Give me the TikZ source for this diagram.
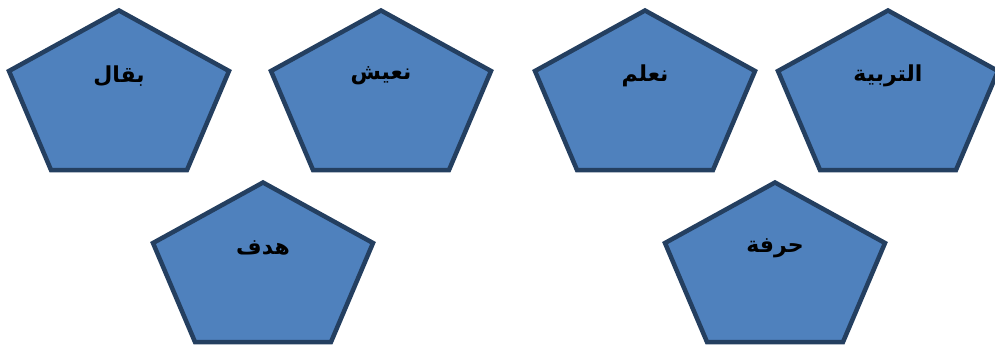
\documentclass[tikz,border=0pt]{standalone}
\usepackage{fontspec}
\newfontfamily\arabicfont[Script=Arabic]{DejaVu Sans}
\TeXXeTstate=1
\definecolor{pentfill}{HTML}{4F81BD}
\definecolor{pentline}{HTML}{243F60}
\usetikzlibrary{positioning}

\begin{document}
\begin{tikzpicture}[x=1pt,y=-1pt,
    pent/.style={draw=pentline,fill=pentfill,line width=4.5pt},
    word/.style={font=\arabicfont\bfseries\fontsize{22}{26}\selectfont,inner sep=0pt}]
  \useasboundingbox (0,0) rectangle (995,349);
  % pentagons, top vertex first
  \foreach \cx/\ty in {119/8,381/8,645/8,888/8,263/180,775/180}
    \draw[pent] (\cx,\ty+2.5) -- ++(110,60.5) -- ++(-42,99) -- ++(-136,0) -- ++(-42,-99) -- cycle;
  % words
  \node[word] (baqqal) at (119,76) {\beginR بقال\endR};
  \node[word] (naeesh) at (381,76) {\beginR نعيش\endR};
  \node[word] (naalam) at (645,76) {\beginR نعلم\endR};
  \node[word] (tarbiya) at (888,76) {\beginR التربية\endR};
  \node[word] (hadaf) at (263,248) {\beginR هدف\endR};
  \node[word] (hirfa) at (775,248) {\beginR حرفة\endR};
\end{tikzpicture}
\end{document}
